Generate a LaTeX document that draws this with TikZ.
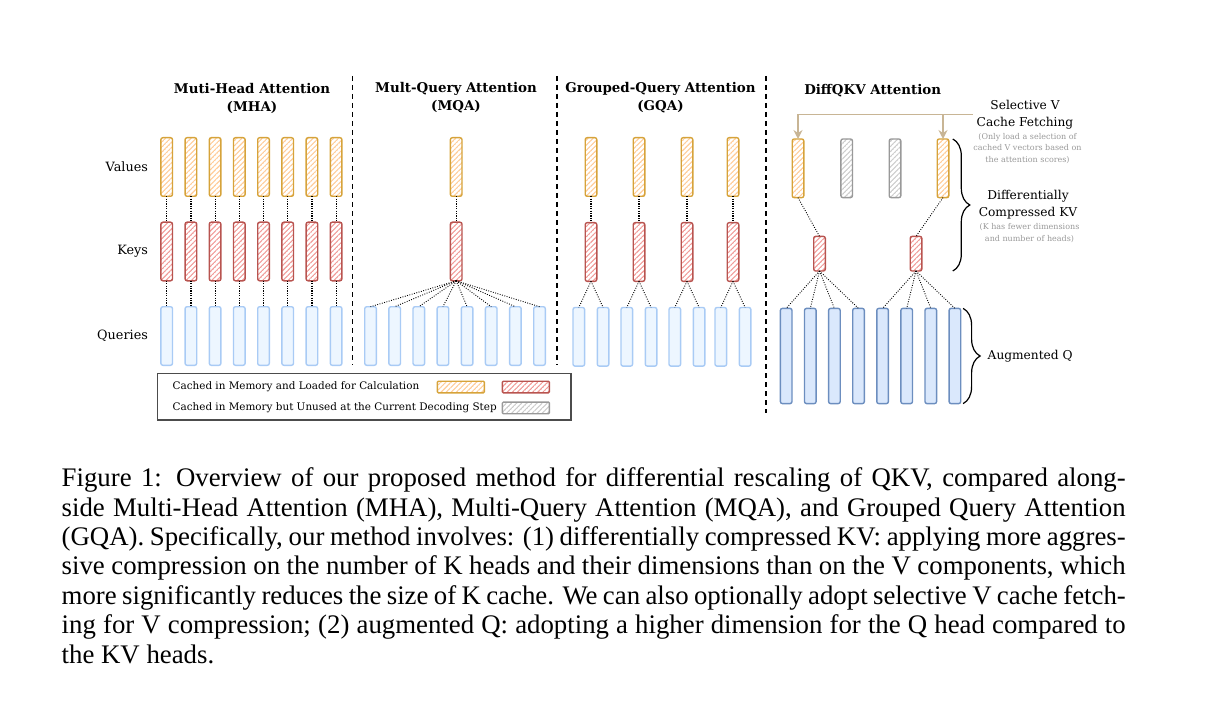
\documentclass[tikz,border=0pt]{standalone}
\usepackage{fontspec}
\setmainfont{Liberation Serif}
\newfontfamily\figfont{DejaVu Serif}
\usetikzlibrary{positioning,patterns.meta,decorations.pathreplacing,arrows.meta}

\definecolor{vdraw}{HTML}{D6A33A}
\definecolor{vhatch}{HTML}{FFCC99}
\definecolor{kdraw}{HTML}{B85450}
\definecolor{khatch}{HTML}{F19C99}
\definecolor{udraw}{HTML}{999999}
\definecolor{uhatch}{HTML}{CCCCCC}
\definecolor{qdraw}{HTML}{A9CBF5}
\definecolor{qfill}{HTML}{EDF6FF}
\definecolor{aqdraw}{HTML}{6C8EBF}
\definecolor{aqfill}{HTML}{DAE8FC}
\definecolor{fetchcol}{HTML}{C8B595}
\definecolor{notecol}{HTML}{999999}

% thin slanted lines used inside the cached heads
\tikzdeclarepattern{
  name=slant,
  type=uncolored,
  bounding box={(0,-0.3pt) and (1.8pt,0.3pt)},
  tile size={(1.8pt,1.8pt)},
  tile transformation={rotate=45},
  code={\draw[line width=0.55pt] (0,0) -- (1.8pt,0);}
}

\newcommand\capline[1]{\hbox to 532pt{#1}}

\begin{document}
\begin{tikzpicture}
  [x=0.5pt, y=-0.5pt,
   every node/.style={inner sep=0pt, outer sep=0pt},
   head/.style={rounded corners=1pt, line width=0.7pt, minimum width=5.8pt, minimum height=29.3pt},
   vbox/.style={head, draw=vdraw, pattern=slant, pattern color=vhatch},
   kbox/.style={head, draw=kdraw, pattern=slant, pattern color=khatch},
   ubox/.style={head, draw=udraw, pattern=slant, pattern color=uhatch},
   qbox/.style={head, draw=qdraw, fill=qfill},
   aqbox/.style={head, draw=aqdraw, fill=aqfill, minimum height=47.6pt},
   shortk/.style={minimum height=17.3pt},
   swatch/.style={rounded corners=0.5pt, line width=0.7pt, minimum width=23.5pt, minimum height=5.8pt},
   link/.style={line width=0.6pt, dash pattern=on 0.6pt off 0.6pt},
   fan/.style={line width=0.45pt, dash pattern=on 0.45pt off 0.75pt},
   sep/.style={line width=0.9pt, dash pattern=on 2.5pt off 2pt},
   title/.style={font=\figfont\bfseries\fontsize{6.7}{9}\selectfont, align=center},
   rowlab/.style={font=\figfont\fontsize{6.4}{8}\selectfont},
   leglab/.style={font=\figfont\fontsize{5.2}{6}\selectfont, anchor=west},
   sidelab/.style={font=\figfont\fontsize{6.1}{8.4}\selectfont, align=center},
   sidenote/.style={font=\figfont\fontsize{4}{5.9}\selectfont, align=center, text=notecol},
   brace/.style={decorate, decoration={brace, amplitude=8.5pt}, line width=0.6pt},
   fetch/.style={draw=fetchcol, line width=0.8pt, -{Stealth[length=4.5pt, width=4.5pt]}},
   capline/.style={anchor=base west, font=\fontsize{13.4}{14.7}\selectfont}]
  \useasboundingbox (0,0) rectangle (1206,706);

  % titles
  \node[title] (mhatitle) at (252,98) {Muti-Head Attention\\(MHA)};
  \node[title] (mqatitle) at (456,98) {Mult-Query Attention\\(MQA)};
  \node[title] (gqatitle) at (660.5,98) {Grouped-Query Attention\\(GQA)};
  \node[title] (difftitle) at (872.7,91) {DiffQKV Attention};

  % separators
  \draw[sep] (352.5,76) -- (352.5,365);
  \draw[sep] (557,76) -- (557,365);
  \draw[sep] (766,76) -- (766,413);

  % MHA
  \foreach \i in {1,...,8}{
    \node[vbox] (mhav\i) at ({142.5+24.2*\i},167) {};
    \node[kbox] (mhak\i) at ({142.5+24.2*\i},251.5) {};
    \node[qbox] (mhaq\i) at ({142.5+24.2*\i},336) {};
    \draw[link] (mhav\i) -- (mhak\i);
    \draw[link] (mhak\i) -- (mhaq\i);
  }
  \node[rowlab, left=6.5pt of mhav1] (vlab) {Values};
  \node[rowlab, left=6.5pt of mhak1] (klab) {Keys};
  \node[rowlab, left=6.5pt of mhaq1] (qlab) {Queries};

  % MQA
  \node[vbox] (mqav) at (456.2,167) {};
  \node[kbox] (mqak) at (456.2,251.5) {};
  \draw[link] (mqav) -- (mqak);
  \foreach \i in {1,...,8}{
    \node[qbox] (mqaq\i) at ({346.4+24.14*\i},336) {};
    \draw[fan] (mqak.south) -- (mqaq\i.north);
  }

  % GQA
  \foreach \i/\x in {1/591,2/639,3/687,4/733}{
    \node[vbox] (gqav\i) at (\x,167) {};
    \node[kbox] (gqak\i) at (\x,252) {};
    \node[qbox] (gqaql\i) at ({\x-12.2},336.8) {};
    \node[qbox] (gqaqr\i) at ({\x+12.1},336.8) {};
    \draw[link] (gqav\i) -- (gqak\i);
    \draw[fan] (gqak\i.south) -- (gqaql\i.north);
    \draw[fan] (gqak\i.south) -- (gqaqr\i.north);
  }

  % DiffQKV
  \foreach \i/\x/\s in {1/798/vbox,2/846.7/ubox,3/895/ubox,4/943/vbox}
    \node[\s] (dv\i) at (\x,168.3) {};
  \node[kbox, shortk] (dk1) at (819.5,253.7) {};
  \node[kbox, shortk] (dk2) at (916,253.7) {};
  \draw[fan] (dv1.south) -- (dk1.north);
  \draw[fan] (dv4.south) -- (dk2.north);
  \foreach \i in {1,...,8}
    \node[aqbox] (dq\i) at ({762.1+24.1*\i},356) {};
  \foreach \i in {1,...,4}
    \draw[fan] (dk1.south) -- (dq\i.north);
  \foreach \i in {5,...,8}
    \draw[fan] (dk2.south) -- (dq\i.north);

  % side notes
  \node[sidelab] (sel) at (1025,114.5) {Selective V\\Cache Fetching};
  \node[sidenote] (selnote) at (1027.5,148.5) {(Only load a selection of\\cached V vectors based on\\the attention scores)};
  \node[sidelab] (ckv) at (1028,205) {Differentially\\Compressed KV};
  \node[sidenote] (ckvnote) at (1029.5,233.3) {(K has fewer dimensions\\and number of heads)};
  \draw[fetch] ([xshift=-2pt]sel.west) -| (dv1.north);
  \draw[fetch] (dv4.north |- sel.west) -- (dv4.north);
  \draw[brace] ([xshift=2pt]dv4.north east) -- ([xshift=2pt]dv4.east |- dk2.south);
  \draw[brace] ([xshift=1.2pt]dq8.north east) -- ([xshift=1.2pt]dq8.south east);
  \node[sidelab, anchor=west] (augq) at (987.7,356) {Augmented Q};

  % legend
  \node[draw=black!70, line width=0.6pt, minimum width=206.7pt, minimum height=23.3pt] (legend) at (364.2,396.7) {};
  \node[leglab] (legused) at (172.7,386.7) {Cached in Memory and Loaded for Calculation};
  \node[leglab] (legunused) at (172.7,407.7) {Cached in Memory but Unused at the Current Decoding Step};
  \node[swatch, draw=vdraw, pattern=slant, pattern color=vhatch] (swv) at (460.9,387) {};
  \node[swatch, draw=kdraw, pattern=slant, pattern color=khatch] (swk) at (525.9,387) {};
  \node[swatch, draw=udraw, pattern=slant, pattern color=uhatch] (swu) at (525.9,407.9) {};

  % caption
  \node[capline] (cap1) at (61.7,486.7) {\capline{Figure 1: Overview of our proposed method for differential rescaling of QKV, compared along-}};
  \node[capline] (cap2) at (61.7,516.1) {\capline{side Multi-Head Attention (MHA), Multi-Query Attention (MQA), and Grouped Query Attention}};
  \node[capline] (cap3) at (61.7,545.5) {\capline{(GQA). Specifically, our method involves: (1) differentially compressed KV: applying more aggres-}};
  \node[capline] (cap4) at (61.7,574.9) {\capline{sive compression on the number of K heads and their dimensions than on the V components, which}};
  \node[capline] (cap5) at (61.7,604.3) {\capline{more significantly reduces the size of K cache. We can also optionally adopt selective V cache fetch-}};
  \node[capline] (cap6) at (61.7,633.7) {\capline{ing for V compression; (2) augmented Q: adopting a higher dimension for the Q head compared to}};
  \node[capline] (cap7) at (61.7,663.1) {the KV heads.};
\end{tikzpicture}
\end{document}
